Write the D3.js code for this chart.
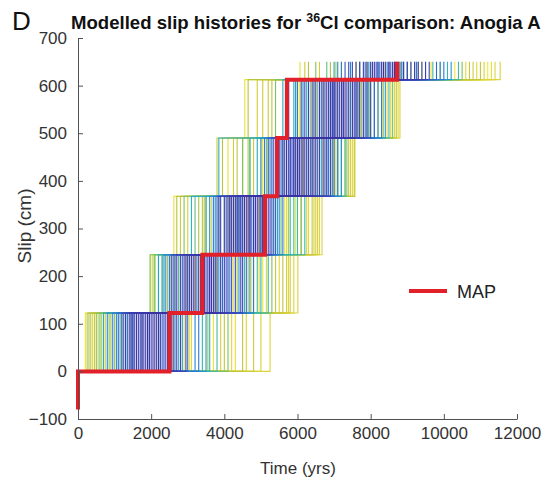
<!DOCTYPE html>
<html>
<head>
<meta charset="utf-8">
<script src="https://cdn.jsdelivr.net/npm/d3@7"></script>
<style>
  html, body { margin: 0; padding: 0; background: #fff; }
  svg { display: block; font-family: "Liberation Sans", Arial, Helvetica, sans-serif; }
</style>
</head>
<body>
<svg id="chart" width="550" height="482"></svg>
<script>
// Misfit of each modelled history (0 = best fit, 1 = worst), used for colour
const misfit = [
  0.02,0.03,0.05,0.04,0.06,0.07,0.08,0.03,0.09,0.10,0.05,0.11,0.08,0.12,0.06,0.10,0.09,0.07,0.04,0.12,
  0.11,0.13,0.14,0.02,0.13,0.08,0.14,0.10,0.18,0.22,0.25,0.20,0.28,0.30,0.17,0.24,0.32,0.27,0.19,0.33,
  0.21,0.35,0.26,0.16,0.29,0.31,0.40,0.45,0.42,0.50,0.55,0.48,0.58,0.60,0.44,0.52,0.38,0.61,0.47,0.56,
  0.62,0.70,0.85,0.95,0.75,0.90,0.80,0.68,0.88,0.72,0.92,0.78,0.83,0.98,0.74,0.86,0.67,0.94,0.81,0.76,
  0.89,0.69,0.97,0.73,0.84,0.91,0.79,0.87,0.71,0.99
];
// Times (yrs) of the six slip steps for each history
const step1 = [
  2450,1950,1600,2200,1400,2600,1800,2100,1300,2350,1700,2800,1500,2000,2250,1850,2700,1450,2050,1200,
  2950,1750,2400,1900,1550,2150,2550,1650,1100,3000,1350,2300,950,3200,1950,2650,1050,3300,1250,2850,
  1750,3500,2200,1500,2500,800,700,3600,1300,3800,600,2750,1900,4100,1150,2450,1450,500,3400,2250,
  850,300,5250,200,4500,400,4800,900,3100,650,4300,1200,3900,2600,350,4600,1000,3700,550,4000,
  750,3550,1750,250,5000,2900,450,4200,1350,3050
];
const step2 = [
  3380,3600,3100,3900,2900,4100,3300,3700,3000,3450,3200,4300,2700,3800,3550,2950,4000,3150,3650,2600,
  4450,3350,4200,3450,2800,3750,4500,3050,2550,4600,3250,4050,2500,4700,2850,3950,2400,4800,3500,3850,
  2650,4400,3350,3600,4150,2350,2200,5000,2300,4900,2100,4550,3750,5300,3400,2750,3950,1970,5200,3000,
  2650,2450,6010,2100,5600,3800,5800,2200,5500,2050,4950,3100,5700,3200,2550,5900,2750,4750,2300,5400,
  1990,4650,5050,2950,5750,3300,2450,5150,4350,4250
];
const step3 = [
  5050,4700,4400,4900,4200,4800,4500,4600,4100,5000,4300,5200,3900,4700,4850,4350,5100,4150,4550,3850,
  5300,4450,5150,4650,4000,4950,5250,4250,3800,5400,4750,4450,3700,5500,4050,5350,3600,5600,4350,5150,
  4150,5450,4550,4800,5050,3750,3500,5800,3100,5900,3200,6000,4250,6100,4400,3850,5000,2900,6200,5550,
  4000,3300,6670,2620,6400,4100,6500,4300,6300,2700,5700,3500,6550,4950,3450,6600,4550,5650,3000,6100,
  3650,5750,5950,3400,6450,4200,2800,6250,5350,4650
];
const step4 = [
  5480,6200,5900,6400,5700,6500,6000,6100,5600,6700,5800,6800,5500,6300,6050,5650,6600,5950,6150,5450,
  6900,5850,6750,6000,5300,6450,6350,5750,5200,7000,6550,5550,5100,7100,6250,6850,5000,6950,5900,7200,
  5350,6650,6050,6300,5800,5250,4900,7100,3850,7300,4700,6800,5150,7350,5600,4700,6000,4500,7200,6400,
  5450,4500,7570,4100,7400,5200,7000,6600,7500,3950,6500,4800,7450,5700,4350,7300,5950,6950,4250,7550,
  5050,6250,6700,4650,7200,5000,3800,7050,6150,5450
];
const step5 = [
  5760,7200,6800,7500,6600,7600,7000,7300,6500,7800,6900,7900,6400,7400,7100,6700,7700,6950,7250,6300,
  8000,6850,7650,7050,6200,7550,7350,6750,6100,8100,7450,6650,6000,8200,7150,7850,5950,8300,7000,7950,
  6450,8400,6950,7250,6850,6150,5900,8300,5600,8500,5700,7700,6550,8600,6250,7900,7600,5400,8100,7000,
  6350,5700,8800,4560,8700,6100,7800,7400,8200,4650,8450,5200,8000,6450,6900,8650,6700,7500,4900,8350,
  5950,7750,7950,5300,8550,7650,5050,8750,7100,6050
];
const step6 = [
  8700,8500,8100,9000,7900,9300,8300,8600,7700,9500,8200,9200,7600,8800,8400,8000,8900,7800,8650,7500,
  9600,8150,9100,8350,7400,8750,9400,8050,7300,9800,8450,8250,7200,9900,8550,9250,7100,10000,8500,8850,
  7850,10200,8650,8900,7950,7450,7000,10100,7700,10400,6800,9700,8650,10500,9000,9500,8200,6500,9200,8850,
  7900,6900,11540,6070,11000,7700,10800,8300,10600,6300,11300,7200,9400,10300,8000,11400,9100,8800,6600,10700,
  7600,9900,9650,7050,11100,8400,6200,10900,9300,11200
];
// Cumulative slip (cm) after each step
const slipLevels = [0, 122.5, 245, 367.5, 490, 612.5, 650];
// Maximum a posteriori history
const mapSteps = [2500, 3400, 5110, 5440, 5710, 8720];
const mapStartSlip = -80;

const xTicks = [0, 2000, 4000, 6000, 8000, 10000, 12000];
const yTicks = [-100, 0, 100, 200, 300, 400, 500, 600, 700];

const svg = d3.select("#chart");
const x = d3.scaleLinear().domain([0, 12000]).range([78, 517]);
const y = d3.scaleLinear().domain([-100, 700]).range([419, 38]);

// parula-like colour ramp
const parula = d3.interpolateRgbBasis([
  "#3a2c9c", "#3d45bc", "#2f6fd2", "#1aa6d4", "#3bbfa2",
  "#8ec44e", "#c6c23a", "#e4d83a", "#f0ea30"
]);

const steps = [step1, step2, step3, step4, step5, step6];
const histories = misfit.map((m, i) => {
  const pts = [[0, slipLevels[0]]];
  steps.forEach((s, k) => {
    pts.push([s[i], slipLevels[k]]);
    pts.push([s[i], slipLevels[k + 1]]);
  });
  return { m, pts };
});
// worst fits first so the best fits sit on top
histories.sort((a, b) => b.m - a.m);

const line = d3.line().x(d => x(d[0])).y(d => y(d[1]));

svg.append("g")
  .selectAll("path")
  .data(histories)
  .join("path")
  .attr("d", d => line(d.pts))
  .attr("fill", "none")
  .attr("stroke", d => parula(d.m))
  .attr("stroke-width", 1.1);

// MAP history
const mapPts = [[0, mapStartSlip], [0, slipLevels[0]]];
mapSteps.forEach((t, k) => {
  mapPts.push([t, slipLevels[k]]);
  mapPts.push([t, slipLevels[k + 1]]);
});
const mapColor = "#e2202a";
svg.append("path")
  .attr("d", line(mapPts))
  .attr("fill", "none")
  .attr("stroke", mapColor)
  .attr("stroke-width", 4)
  .attr("stroke-linejoin", "miter");

// Axes
const axisColor = "#505050";
const textColor = "#333";
const gx = svg.append("g")
  .attr("transform", `translate(0,${y(-100)})`)
  .call(d3.axisBottom(x).tickValues(xTicks).tickSize(-5).tickSizeOuter(0)
    .tickPadding(8).tickFormat(d3.format("d")));
const gy = svg.append("g")
  .attr("transform", `translate(${x(0)},0)`)
  .call(d3.axisLeft(y).tickValues(yTicks).tickSize(-5).tickSizeOuter(0)
    .tickPadding(11).tickFormat(d3.format("d")));
[gx, gy].forEach(g => {
  g.select(".domain").attr("stroke", axisColor);
  g.selectAll(".tick line").attr("stroke", axisColor);
  g.selectAll(".tick text")
    .attr("fill", textColor)
    .style("font-size", "17px")
    .style("font-family", '"Liberation Sans", Arial, sans-serif');
});

// Axis titles
svg.append("text")
  .attr("x", 298).attr("y", 474)
  .attr("text-anchor", "middle")
  .attr("fill", textColor)
  .style("font-size", "17px")
  .text("Time (yrs)");
svg.append("text")
  .attr("transform", "translate(31,226) rotate(-90)")
  .attr("text-anchor", "middle")
  .attr("fill", textColor)
  .style("font-size", "19px")
  .text("Slip (cm)");

// Panel letter and title
svg.append("text")
  .attr("x", 12).attr("y", 30)
  .attr("fill", "#111")
  .style("font-size", "26px")
  .text("D");
const title = svg.append("text")
  .attr("fill", "#111")
  .style("font-size", "18px")
  .style("font-weight", "bold");
title.append("tspan").text("Modelled slip histories for ");
title.append("tspan").attr("dy", -7).style("font-size", "12px").text("36");
title.append("tspan").attr("dy", 7).text("Cl comparison: Anogia A");
const tw = title.node().getComputedTextLength();
title.attr("transform", `translate(71,29) scale(${470 / tw},1)`);

// Legend
const legend = svg.append("g");
legend.append("line")
  .attr("x1", 409).attr("x2", 447)
  .attr("y1", 291).attr("y2", 291)
  .attr("stroke", mapColor)
  .attr("stroke-width", 4);
legend.append("text")
  .attr("x", 457).attr("y", 298)
  .attr("fill", "#222")
  .style("font-size", "18px")
  .text("MAP");
</script>
</body>
</html>
